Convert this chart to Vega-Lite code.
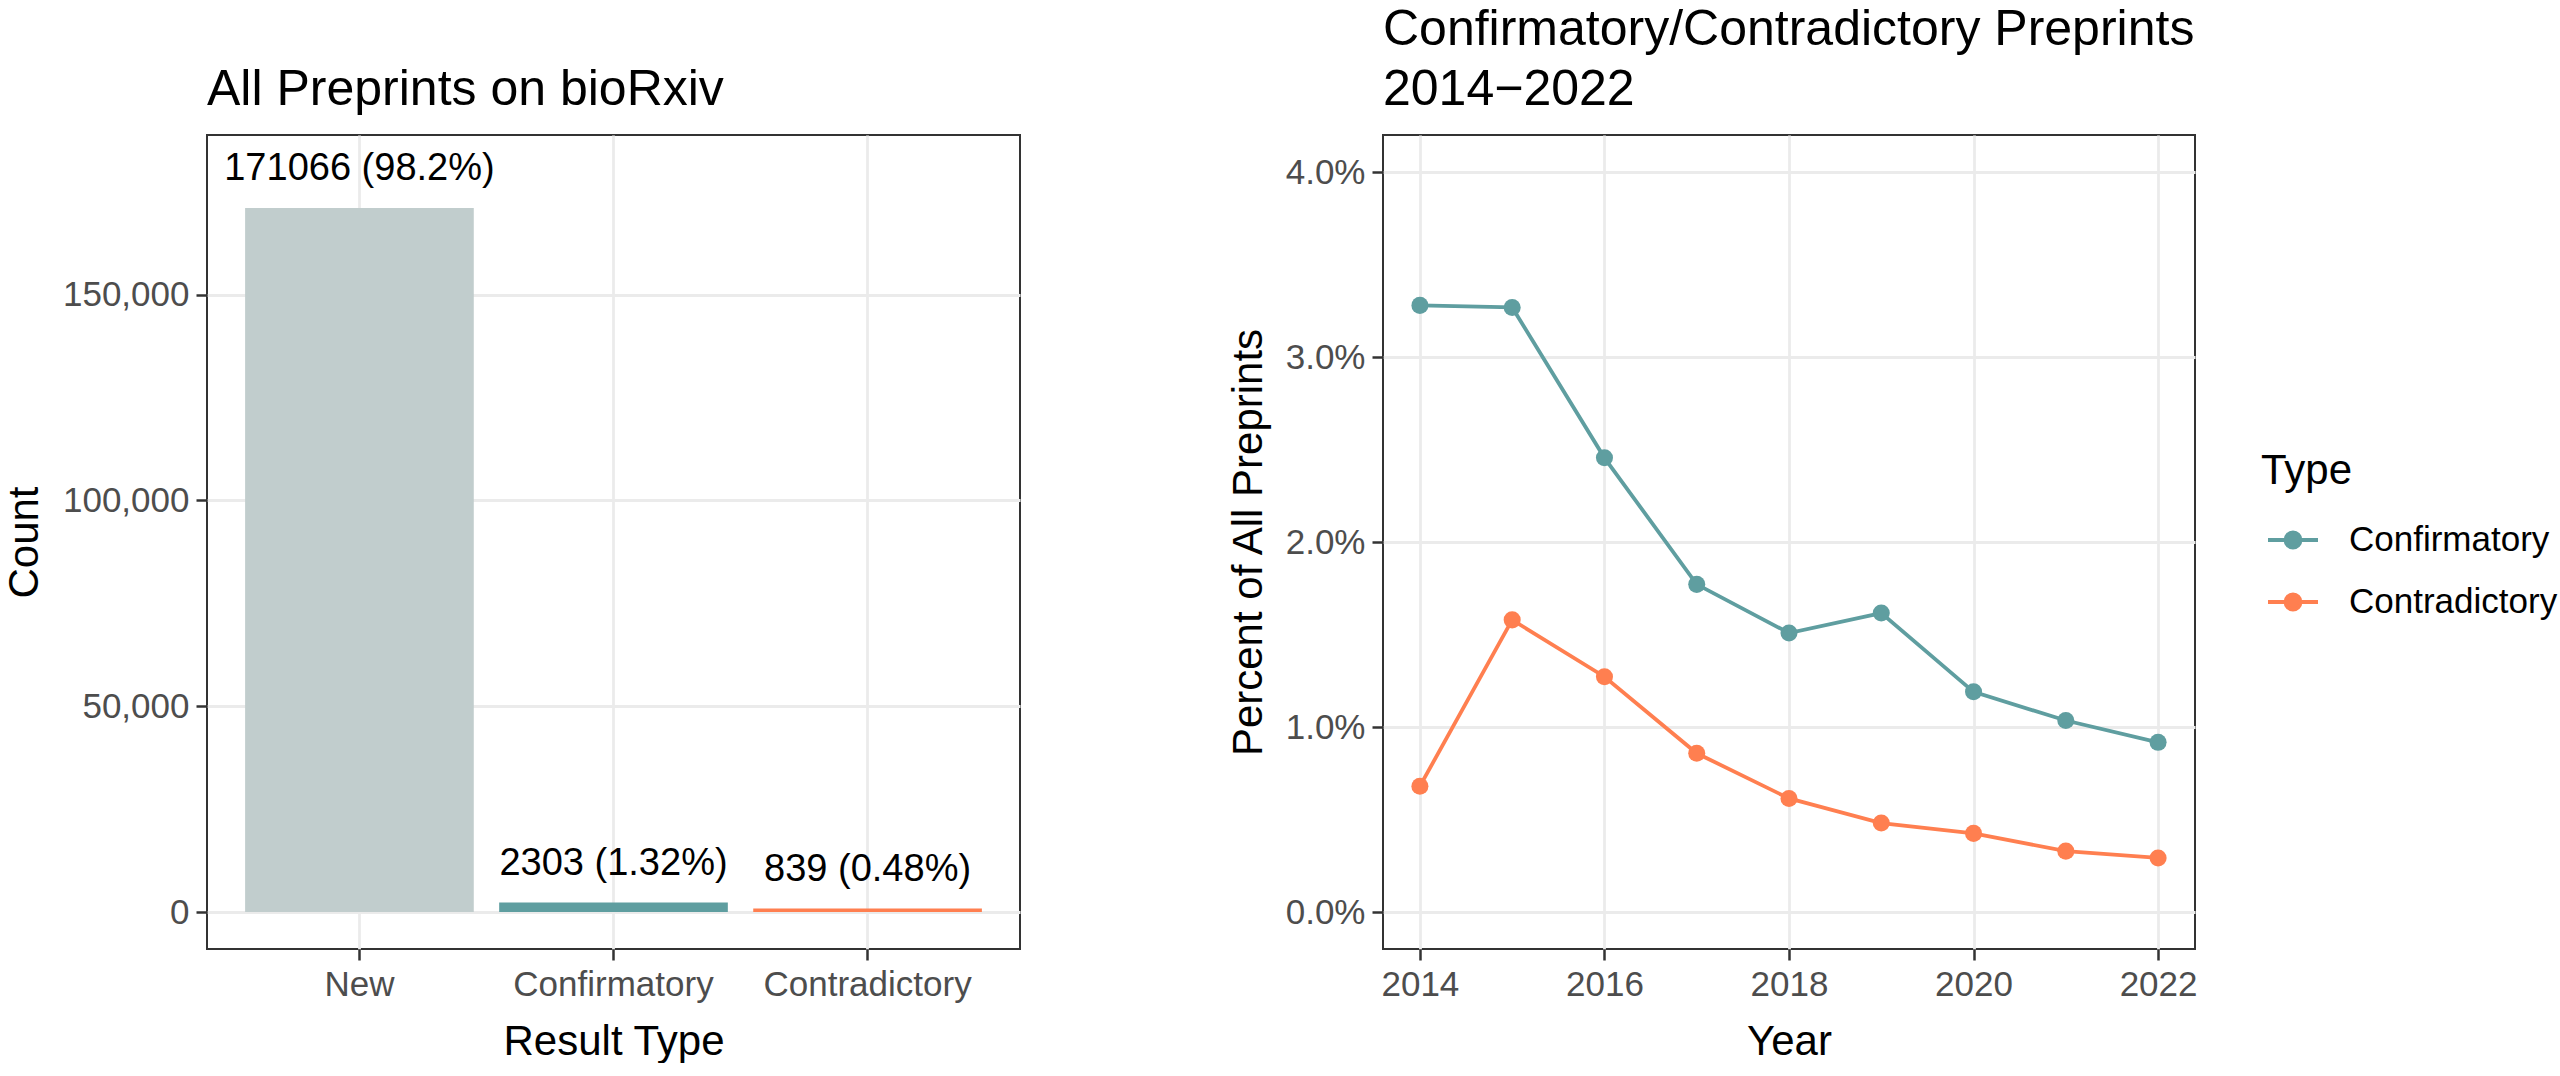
{
  "$schema": "https://vega.github.io/schema/vega-lite/v6.json",
  "padding": {"left": 2, "top": 4, "right": 0, "bottom": 0},
  "spacing": 205,
  "resolve": {"scale": {"color": "independent"}, "legend": {"color": "independent"}},
  "config": {
    "font": "Liberation Sans",
    "view": {"stroke": "#333333", "strokeWidth": 2},
    "axis": {
      "labelFont": "Liberation Sans",
      "labelFontSize": 35,
      "labelColor": "#4D4D4D",
      "labelLimit": 0,
      "titleFont": "Liberation Sans",
      "titleFontSize": 42,
      "titleFontWeight": "normal",
      "titleColor": "#000000",
      "tickColor": "#333333",
      "tickWidth": 2.5,
      "tickSize": 11,
      "labelPadding": 7,
      "domain": false,
      "gridColor": "#EBEBEB",
      "gridWidth": 2.8
    },
    "title": {
      "font": "Liberation Sans",
      "fontSize": 50,
      "fontWeight": "normal",
      "color": "#000000",
      "anchor": "start",
      "frame": "group",
      "baseline": "bottom",
      "offset": 20,
      "lineHeight": 60
    }
  },
  "hconcat": [
    {
      "width": 813,
      "height": 814,
      "title": "All Preprints on bioRxiv",
      "data": {
        "values": [
          {"type": "New", "n": 171066, "label": "171066 (98.2%)"},
          {"type": "Confirmatory", "n": 2303, "label": "2303 (1.32%)"},
          {"type": "Contradictory", "n": 839, "label": "839 (0.48%)"}
        ]
      },
      "layer": [
        {
          "mark": {"type": "bar"},
          "encoding": {
            "x": {
              "field": "type",
              "type": "nominal",
              "sort": ["New", "Confirmatory", "Contradictory"],
              "scale": {"paddingInner": 0.1, "paddingOuter": 0.15},
              "axis": {
                "title": "Result Type",
                "labelAngle": 0,
                "grid": true,
                "bandPosition": 0.5,
                "titleBaseline": "alphabetic",
                "titleY": 105
              }
            },
            "y": {
              "field": "n",
              "type": "quantitative",
              "scale": {"domain": [-8990, 188790], "nice": false},
              "axis": {
                "title": "Count",
                "values": [0, 50000, 100000, 150000],
                "format": ",.0f",
                "formatType": "number",
                "titleX": -170,
                "titleBaseline": "alphabetic"
              }
            },
            "color": {
              "field": "type",
              "type": "nominal",
              "scale": {
                "domain": ["New", "Confirmatory", "Contradictory"],
                "range": ["#C1CDCD", "#5F9EA0", "#FF7F50"]
              },
              "legend": null
            }
          }
        },
        {
          "mark": {"type": "text", "baseline": "alphabetic", "dy": -28, "fontSize": 38, "color": "#000000"},
          "encoding": {
            "x": {"field": "type", "type": "nominal", "sort": ["New", "Confirmatory", "Contradictory"]},
            "y": {
              "field": "n",
              "type": "quantitative",
              "axis": {
                "orient": "right",
                "title": null,
                "values": [25000, 75000, 125000, 175000],
                "labels": false,
                "ticks": false,
                "gridWidth": 1.5
              }
            },
            "text": {"field": "label"}
          }
        }
      ],
      "resolve": {"axis": {"y": "independent"}}
    },
    {
      "width": 812,
      "height": 814,
      "title": {"text": ["Confirmatory/Contradictory Preprints", "2014−2022"]},
      "data": {
        "values": [
          {"year": 2014, "type": "Confirmatory", "pct": 0.03279},
          {"year": 2015, "type": "Confirmatory", "pct": 0.03268},
          {"year": 2016, "type": "Confirmatory", "pct": 0.02455},
          {"year": 2017, "type": "Confirmatory", "pct": 0.01771},
          {"year": 2018, "type": "Confirmatory", "pct": 0.01508},
          {"year": 2019, "type": "Confirmatory", "pct": 0.01616},
          {"year": 2020, "type": "Confirmatory", "pct": 0.0119},
          {"year": 2021, "type": "Confirmatory", "pct": 0.01035},
          {"year": 2022, "type": "Confirmatory", "pct": 0.00917},
          {"year": 2014, "type": "Contradictory", "pct": 0.0068},
          {"year": 2015, "type": "Contradictory", "pct": 0.01579},
          {"year": 2016, "type": "Contradictory", "pct": 0.01272},
          {"year": 2017, "type": "Contradictory", "pct": 0.00858},
          {"year": 2018, "type": "Contradictory", "pct": 0.00614},
          {"year": 2019, "type": "Contradictory", "pct": 0.00481},
          {"year": 2020, "type": "Contradictory", "pct": 0.00425},
          {"year": 2021, "type": "Contradictory", "pct": 0.00329},
          {"year": 2022, "type": "Contradictory", "pct": 0.00292}
        ]
      },
      "layer": [
        {
          "mark": {"type": "line", "strokeWidth": 3.8},
          "encoding": {
            "x": {
              "field": "year",
              "type": "quantitative",
              "scale": {"domain": [2013.6, 2022.4], "nice": false, "zero": false},
              "axis": {
                "title": "Year",
                "values": [2014, 2016, 2018, 2020, 2022],
                "format": "d",
                "titleBaseline": "alphabetic",
                "titleY": 105
              }
            },
            "y": {
              "field": "pct",
              "type": "quantitative",
              "scale": {"domain": [-0.002, 0.042], "nice": false},
              "axis": {
                "title": "Percent of All Preprints",
                "values": [0, 0.01, 0.02, 0.03, 0.04],
                "format": ".1%",
                "titleX": -122,
                "titleBaseline": "alphabetic"
              }
            },
            "color": {
              "field": "type",
              "type": "nominal",
              "scale": {
                "domain": ["Confirmatory", "Contradictory"],
                "range": ["#5F9EA0", "#FF7F50"]
              },
              "legend": {
                "orient": "none",
                "legendX": 878,
                "legendY": 316,
                "padding": 0,
                "title": "Type",
                "titleFont": "Liberation Sans",
                "titleFontSize": 42,
                "titleFontWeight": "normal",
                "titleColor": "#000000",
                "titlePadding": 20,
                "labelFont": "Liberation Sans",
                "labelFontSize": 35,
                "labelColor": "#000000",
                "labelLimit": 0,
                "labelOffset": 29,
                "rowPadding": 17,
                "symbolType": "M -1 0 L 1 0 M -0.3 0 A 0.3 0.3 0 1 0 0.3 0 A 0.3 0.3 0 1 0 -0.3 0 Z",
                "symbolSize": 2500,
                "symbolStrokeWidth": 3.8,
                "symbolOffset": 5
              }
            }
          }
        },
        {
          "mark": {"type": "point", "filled": true, "size": 290, "opacity": 1},
          "encoding": {
            "x": {
              "field": "year",
              "type": "quantitative",
              "axis": {
                "orient": "top",
                "title": null,
                "values": [2015, 2017, 2019, 2021],
                "labels": false,
                "ticks": false,
                "gridWidth": 1.5
              }
            },
            "y": {
              "field": "pct",
              "type": "quantitative",
              "axis": {
                "orient": "right",
                "title": null,
                "values": [0.005, 0.015, 0.025, 0.035],
                "labels": false,
                "ticks": false,
                "gridWidth": 1.5
              }
            },
            "color": {"field": "type", "type": "nominal"}
          }
        }
      ],
      "resolve": {"axis": {"x": "independent", "y": "independent"}}
    }
  ]
}
